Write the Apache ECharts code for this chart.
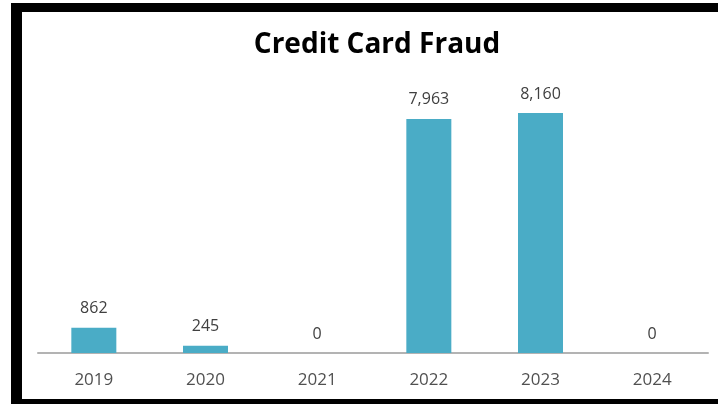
<!DOCTYPE html>
<html>
<head>
<meta charset="utf-8">
<script src="https://cdn.jsdelivr.net/npm/echarts@6/dist/echarts.min.js"></script>
<style>
  html, body { margin: 0; padding: 0; background: #fff; overflow: hidden; }
  #chart { position: absolute; left: 0; top: 0; width: 718px; height: 404px; }
  #frame {
    position: absolute; left: 11px; top: 3px; width: 760px; height: 405px;
    border-left: 11px solid #000; border-top: 9px solid #000; border-bottom: 9px solid #000;
    box-sizing: border-box; pointer-events: none;
  }
</style>
</head>
<body>
<div id="chart"></div>
<div id="frame"></div>
<script>
const years = ['2019', '2020', '2021', '2022', '2023', '2024'];
const fraudCounts = [862, 245, 0, 7963, 8160, 0];
const chartTitle = 'Credit Card Fraud';

const chart = echarts.init(document.getElementById('chart'));
chart.setOption({
  animation: false,
  title: {
    text: chartTitle,
    left: 372,
    top: 26,
    textAlign: 'center',
    textStyle: { fontFamily: 'Open Sans', fontWeight: 'bold', fontSize: 28, color: '#000' }
  },
  grid: { left: 38, right: 10, top: 59, bottom: 51 },
  xAxis: {
    type: 'category',
    data: years,
    axisLine: { lineStyle: { color: '#b3b3b3', width: 2 } },
    axisTick: { show: false },
    axisLabel: { fontFamily: 'Open Sans', fontSize: 17, color: '#505050', margin: 19 }
  },
  yAxis: {
    type: 'value',
    min: 0,
    max: 10000,
    show: false,
    splitLine: { show: false }
  },
  series: [{
    type: 'bar',
    data: fraudCounts,
    barWidth: 45,
    itemStyle: { color: '#4aacc6' },
    label: {
      show: true,
      position: 'top',
      distance: 11,
      fontFamily: 'Open Sans',
      fontSize: 16,
      color: '#404040',
      formatter: p => p.value.toLocaleString('en-US')
    }
  }]
});
</script>
</body>
</html>
